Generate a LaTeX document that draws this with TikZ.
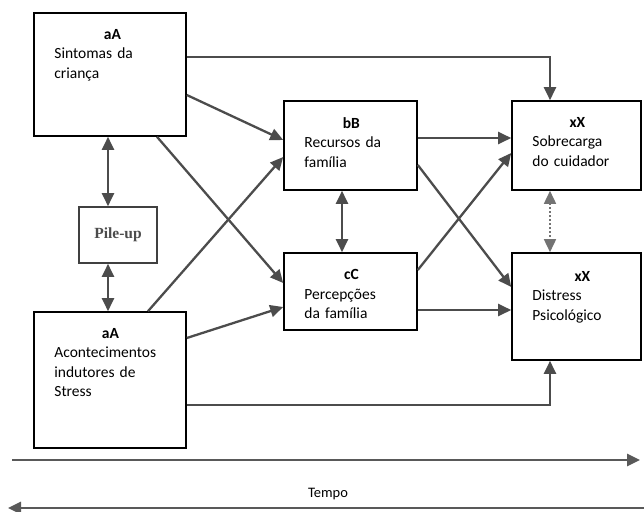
\documentclass[tikz,border=0pt]{standalone}
\usepackage{fontspec}
\setmainfont{Carlito}
\newfontfamily\pileupfont{Liberation Serif}
\usetikzlibrary{arrows.meta,positioning}

\begin{document}
\begin{tikzpicture}[
    x=1pt, y=-1pt,
    font=\fontsize{15.5}{19.5}\selectfont,
    >={Triangle[length=13pt,width=12pt]},
    box/.style={
        rectangle,
        draw=black,
        fill=white,
        line width=1.6pt,
        inner sep=0pt
    },
    txt/.style={
        align=left,
        inner sep=0pt,
        anchor=north west
    },
    pilebox/.style={
        rectangle,
        draw=black!75,
        line width=1.6pt,
        minimum width=78pt,
        minimum height=56pt,
        text=black!70,
        font=\pileupfont\bfseries\fontsize{15.5}{17}\selectfont
    },
    arrow/.style={
        ->,
        draw=black!70,
        line width=2.3pt
    },
    dual/.style={
        <->,
        draw=black!70,
        line width=2.3pt
    },
    dotdual/.style={
        <->,
        draw=black!55,
        line width=1.6pt,
        dash pattern=on 1.6pt off 2.4pt
    },
    axis/.style={
        ->,
        draw=black!65,
        line width=2.6pt
    }
]

\useasboundingbox (0,0) rectangle (644,511);

\node[box, minimum width=152pt, minimum height=123pt] (sint) at (110,74.5) {};
\node[box, minimum width=152pt, minimum height=136pt] (acont) at (110,380) {};
\node[pilebox] (pile) at (118,235) {Pile-up};
\node[box, minimum width=133pt, minimum height=89pt] (rec) at (350.5,145.5) {};
\node[box, minimum width=133pt, minimum height=77pt] (perc) at (350.5,291.5) {};
\node[box, minimum width=129pt, minimum height=89pt] (sobre) at (576.5,145.5) {};
\node[box, minimum width=129pt, minimum height=107pt] (dist) at (576.5,306.5) {};

\node[txt, text width=116pt, below right=17pt and 21pt of sint.north west] (sinttxt)
    {{\centering\textbf{aA}\par}Sintomas da\\criança};
\node[txt, text width=112pt, below right=17pt and 21pt of acont.north west] (acontxt)
    {{\centering\textbf{aA}\par}Acontecimentos\\indutores de\\Stress};
\node[txt, text width=94pt, below right=17pt and 21pt of rec.north west] (rectxt)
    {{\centering\textbf{bB}\par}Recursos da\\família};
\node[txt, text width=94pt, below right=17pt and 21pt of perc.north west] (perctxt)
    {{\centering\textbf{cC}\par}Percepções\\da família};
\node[txt, text width=90pt, below right=17pt and 21pt of sobre.north west] (sobretxt)
    {{\centering\textbf{xX}\par}Sobrecarga\\do cuidador};
\node[txt, text width=100pt, below right=19pt and 21pt of dist.north west] (disttxt)
    {{\centering\textbf{xX}\par}Distress\\Psicológico};

\coordinate (t0) at (12,460);
\coordinate (t1) at (640,460);
\node[font=\fontsize{14.5}{16}\selectfont] (tempo) at (328,494) {Tempo};
\coordinate (t2) at (644,508);
\coordinate (t3) at (8,508);

\draw[dual] ([xshift=-2pt]sint.south) -- ([xshift=-10pt]pile.north);
\draw[dual] ([xshift=-10pt]pile.south) -- ([xshift=-2pt]acont.north);

\draw[arrow] ([yshift=-20.5pt]sint.east) -- ([yshift=5.5pt]rec.west);
\draw[arrow] ([xshift=47pt]sint.south) -- ([yshift=8.5pt]perc.west);
\draw[arrow] ([xshift=38pt]acont.north) -- ([yshift=-11.5pt]rec.west);
\draw[arrow] ([yshift=42pt]acont.east) -- ([yshift=-15.5pt]perc.west);

\draw[arrow] ([yshift=17.5pt]sint.east) -| ([xshift=-26.5pt]sobre.north);
\draw[arrow] ([yshift=-25pt]acont.east) -| ([xshift=-26.5pt]dist.south);

\draw[dual] ([xshift=-8.5pt]rec.south) -- ([xshift=-8.5pt]perc.north);

\draw[arrow] ([yshift=7.5pt]rec.east) -- ([yshift=7.5pt]sobre.west);
\draw[arrow] ([yshift=-19.5pt]rec.east) -- ([yshift=19.5pt]dist.west);
\draw[arrow] ([yshift=21.5pt]perc.east) -- ([yshift=-7.5pt]sobre.west);
\draw[arrow] ([yshift=-18.5pt]perc.east) -- ([yshift=-3.5pt]dist.west);

\draw[dotdual] ([xshift=-26.5pt]sobre.south) -- ([xshift=-26.5pt]dist.north);

\draw[axis] (t0) -- (t1);
\draw[axis] (t2) -- (t3);

\end{tikzpicture}
\end{document}
